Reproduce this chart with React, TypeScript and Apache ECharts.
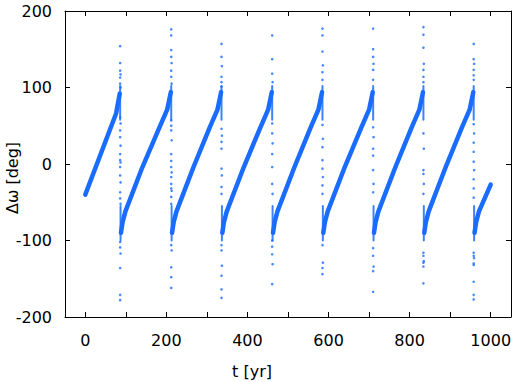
import React, { useEffect, useRef } from "react";
import * as echarts from "echarts";

// ---- data ----
const xTickValues = [0, 100, 200, 300, 400, 500, 600, 700, 800, 900, 1000];
const xLabelValues = [0, 200, 400, 600, 800, 1000];
const yTickLabels = [-200, -100, 0, 100, 200];

// dense bands of each cycle (t [yr], Δω [deg])
const ramps: number[][][] = [
  [[0, -40], [76, 66], [85, 92]],
  [[88, -90], [92, -76], [99, -62], [141, -4], [183, 48], [202, 71], [211, 94]],
  [[214, -90], [218, -76], [225, -62], [267, -4], [307, 48], [326, 71], [335, 94]],
  [[338, -90], [342, -76], [349, -62], [391, -4], [432, 48], [451, 71], [460, 94]],
  [[463, -90], [467, -76], [474, -62], [516, -4], [556, 48], [575, 71], [584, 94]],
  [[587, -90], [591, -76], [598, -62], [640, -4], [681, 48], [700, 71], [709, 94]],
  [[712, -90], [716, -76], [723, -62], [765, -4], [805, 48], [824, 71], [833, 94]],
  [[836, -90], [840, -76], [847, -62], [889, -4], [929, 48], [948, 71], [957, 94]],
  [[960, -90], [964, -76], [971, -62], [1000, -27]],
];

// dense clouds in the jump column at the top end of each ramp
const cloudsTop: number[][][] = [
  [[86, 58], [86, 102]],
  [[212, 58], [212, 102]],
  [[336, 58], [336, 102]],
  [[461, 58], [461, 102]],
  [[585, 58], [585, 102]],
  [[710, 58], [710, 102]],
  [[834, 58], [834, 102]],
  [[958, 58], [958, 102]],
];

// dense clouds in the jump column at the bottom start of each ramp
const cloudsBottom: number[][][] = [
  [[87, -55], [87, -100]],
  [[213, -55], [213, -100]],
  [[337, -55], [337, -100]],
  [[462, -55], [462, -100]],
  [[586, -55], [586, -100]],
  [[711, -55], [711, -100]],
  [[835, -55], [835, -100]],
  [[959, -55], [959, -100]],
];

// scattered points along each jump
const jump1 = [[86,154],[86,132],[86,122],[87,117],[86,113],[86,105],[87,100],[86,61],[87,53],[86,44],[86,35],[87,24],[86,13],[86,5],[87,2],[86,-4],[86,-15],[87,-24],[86,-37],[86,-45],[87,-52],[86,-102],[86,-109],[87,-117],[86,-136],[86,-171],[86,-178]];
const jump2 = [[212,176],[212,168],[212,149],[212,140],[213,132],[212,122],[212,114],[213,105],[212,57],[212,50],[212,44],[213,31],[212,13],[212,4],[212,-4],[213,-11],[212,-17],[212,-26],[212,-32],[213,-35],[212,-43],[212,-52],[212,-106],[213,-113],[212,-135],[212,-148],[212,-162]];
const jump3 = [[336,157],[336,140],[337,128],[336,114],[336,107],[336,101],[336,46],[337,37],[336,29],[336,20],[336,-6],[337,-15],[336,-30],[336,-39],[336,-106],[336,-113],[337,-133],[336,-146],[336,-164],[336,-175]];
const jump4 = [[461,168],[461,137],[461,118],[462,107],[461,53],[461,40],[462,27],[461,13],[461,-4],[461,-26],[462,-39],[461,-100],[461,-108],[461,-118],[462,-131],[461,-157]];
const jump5 = [[585,177],[585,168],[585,147],[586,129],[585,120],[585,110],[585,51],[586,33],[585,22],[585,5],[585,-6],[586,-17],[585,-28],[585,-39],[585,-106],[586,-129],[585,-136],[585,-144]];
const jump6 = [[710,177],[710,150],[710,140],[711,131],[710,123],[710,110],[710,48],[711,35],[710,20],[710,11],[710,-8],[711,-26],[710,-37],[710,-110],[710,-120],[711,-134],[710,-140],[710,-167]];
const jump7 = [[834,179],[834,169],[834,152],[835,131],[834,123],[834,114],[834,107],[834,40],[835,20],[834,-8],[834,-13],[835,-26],[834,-39],[834,-116],[834,-120],[835,-127],[834,-129],[834,-134],[834,-156]];
const jump8 = [[958,157],[958,137],[959,131],[958,123],[958,116],[958,110],[958,52],[959,40],[958,28],[958,16],[958,3],[959,-8],[958,-20],[958,-32],[958,-44],[958,-116],[958,-120],[959,-123],[958,-130],[958,-132],[958,-154],[958,-171],[958,-177]];

const BLUE = "#1a6cff";
const FONT = "DejaVu Sans";

export default function App() {
  const ref = useRef<HTMLDivElement>(null);
  useEffect(() => {
    if (!ref.current) return;
    const chart = echarts.init(ref.current, undefined, { renderer: "svg" });
    const axisLine = { show: true, onZero: false, lineStyle: { color: "#000", width: 1 } };
    const xBase = {
      type: "value",
      min: -50,
      max: 1050,
      axisLine,
      splitLine: { show: false },
      axisTick: { show: true, inside: true, length: 5, lineStyle: { color: "#000" }, customValues: xTickValues },
    };
    const yBase = {
      type: "value",
      min: -200,
      max: 200,
      interval: 100,
      axisLine,
      splitLine: { show: false },
      axisTick: { show: true, inside: true, length: 5, lineStyle: { color: "#000" } },
    };
    const lineSeries = (arr: number[][][], width: number, opacity = 1) =>
      arr.map((d) => ({
        type: "line",
        data: d,
        showSymbol: false,
        symbol: "none",
        lineStyle: { color: BLUE, width, cap: "round", join: "round", opacity },
        silent: true,
      }));
    const pts = [jump1, jump2, jump3, jump4, jump5, jump6, jump7, jump8];
    chart.setOption({
      animation: false,
      grid: { left: 65, right: 11, top: 11, bottom: 65, outerBoundsMode: "none", containLabel: false },
      xAxis: [
        {
          ...xBase,
          position: "bottom",
          axisLabel: {
            show: true,
            customValues: xLabelValues,
            margin: 15,
            color: "#000",
            fontFamily: FONT,
            fontSize: 16,
            formatter: (v: number) => String(v),
          },
        },
        { ...xBase, position: "top", axisLabel: { show: false } },
      ],
      yAxis: [
        {
          ...yBase,
          position: "left",
          axisLabel: {
            show: true,
            margin: 13,
            color: "#000",
            fontFamily: FONT,
            fontSize: 16,
            formatter: (v: number) => (yTickLabels.includes(v) ? String(v) : ""),
          },
        },
        { ...yBase, position: "right", axisLabel: { show: false } },
      ],
      series: [
        ...lineSeries(ramps, 4.5),
        ...lineSeries(cloudsTop, 2, 0.85),
        ...lineSeries(cloudsBottom, 2, 0.85),
        ...pts.map((d) => ({
          type: "scatter",
          data: d,
          symbol: "circle",
          symbolSize: 2.6,
          itemStyle: { color: BLUE },
          silent: true,
        })),
      ],
      graphic: [
        {
          type: "text",
          x: 252,
          y: 371,
          style: { text: "t [yr]", fontFamily: FONT, fontSize: 16, fill: "#000", align: "center", verticalAlign: "middle" },
        },
        {
          type: "text",
          x: 12,
          y: 178,
          rotation: Math.PI / 2,
          style: { text: "Δω [deg]", fontFamily: FONT, fontSize: 16, fill: "#000", align: "center", verticalAlign: "middle" },
        },
      ],
    });
    return () => chart.dispose();
  }, []);
  return <div ref={ref} style={{ position: "fixed", left: 0, top: 0, width: 522, height: 382, background: "#fff" }} />;
}
